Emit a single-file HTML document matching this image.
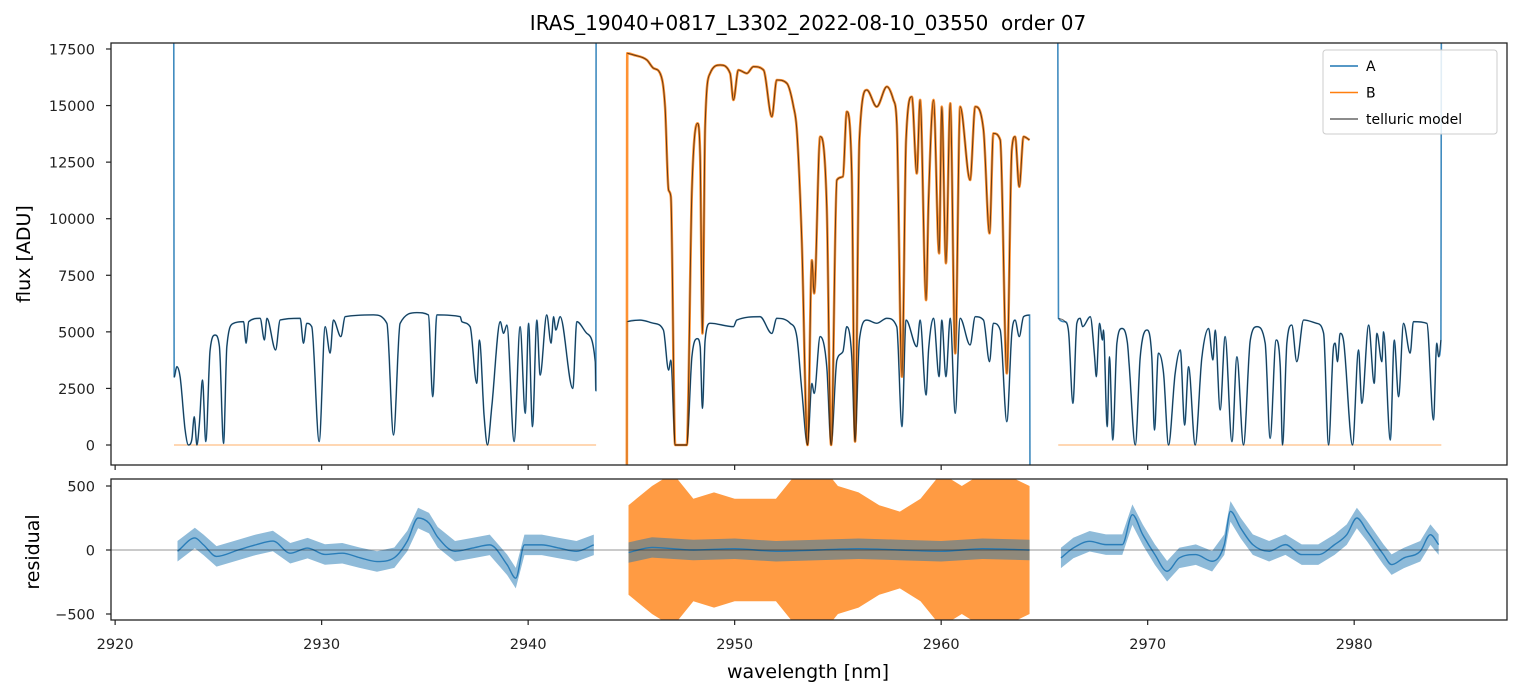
<!DOCTYPE html>
<html><head><meta charset="utf-8">
<style>
html,body{margin:0;padding:0;background:#fff;}
svg{display:block;font-family:"DejaVu Sans","Liberation Sans",sans-serif;}
</style></head>
<body>
<svg id="chart" width="1520" height="696" viewBox="0 0 1520 696" xmlns="http://www.w3.org/2000/svg">
<defs>
<clipPath id="clipTop"><rect x="111" y="43" width="1396" height="422"/></clipPath>
<clipPath id="clipBot"><rect x="111" y="479" width="1396" height="141"/></clipPath>
</defs>
<text x="808" y="30" font-size="20" text-anchor="middle" fill="#000" style="white-space:pre">IRAS_19040+0817_L3302_2022-08-10_03550  order 07</text>
<text transform="translate(30,254) rotate(-90)" font-size="19" text-anchor="middle">flux [ADU]</text>
<text transform="translate(39,552) rotate(-90)" font-size="19" text-anchor="middle">residual</text>
<text x="808" y="678" font-size="19" text-anchor="middle">wavelength [nm]</text>
<g id="topMarks" clip-path="url(#clipTop)"></g>
<g id="botMarks" clip-path="url(#clipBot)"></g>
<g id="axes"></g>
</svg>
<script>
const xTicks = [2920, 2930, 2940, 2950, 2960, 2970, 2980];
const yTicksTop = [0, 2500, 5000, 7500, 10000, 12500, 15000, 17500];
const yTicksBot = [-500, 0, 500];

const specA1 = [[2922.84,17800],[2922.86,3000],[2922.99,3460],[2923.15,2990],[2923.39,660],[2923.55,0],[2923.71,220],[2923.83,1250],[2923.96,0],[2924.08,950],[2924.23,2870],[2924.39,150],[2924.6,4200],[2924.84,4860],[2925.05,4350],[2925.25,70],[2925.41,4350],[2925.73,5376],[2926.22,5450],[2926.34,4500],[2926.47,5450],[2927.02,5600],[2927.23,4640],[2927.35,5600],[2927.77,4200],[2927.99,5524],[2928.96,5600],[2929.12,4500],[2929.28,5376],[2929.52,5229],[2929.88,150],[2930.17,5229],[2930.41,4060],[2930.57,5524],[2930.93,4790],[2931.14,5670],[2932.51,5750],[2933.16,5376],[2933.48,440],[2933.8,5376],[2934.61,5850],[2935.17,5750],[2935.38,2135],[2935.58,5750],[2936.71,5670],[2936.79,5450],[2937.19,5229],[2937.51,2725],[2937.64,4640],[2937.87,1250],[2938.03,0],[2938.24,1700],[2938.65,5450],[2938.81,4935],[2938.97,5300],[2939.32,150],[2939.61,5229],[2939.86,1400],[2940.02,5376],[2940.21,810],[2940.42,5524],[2940.58,3090],[2940.9,5750],[2941.11,4500],[2941.23,5670],[2941.34,5080],[2941.55,5670],[2942.16,2500],[2942.36,5450],[2942.84,4935],[2943.25,3680],[2943.28,2400],[2943.29,17800]];

const specA2 = [[2944.78,-900],[2944.8,5450],[2945.42,5520],[2946.07,5380],[2946.55,5080],[2946.8,3310],[2946.91,3750],[2947.12,0],[2947.68,0],[2947.93,3900],[2948.2,4700],[2948.33,4345],[2948.44,1620],[2948.57,4640],[2948.81,5380],[2949.94,5229],[2950.1,5520],[2951.23,5670],[2951.8,4930],[2952.04,5600],[2952.69,5380],[2953.01,4790],[2953.25,2430],[2953.53,0],[2953.74,2720],[2953.85,2280],[2954.14,4790],[2954.46,3460],[2954.67,0],[2954.95,3750],[2955.24,4120],[2955.43,5229],[2955.67,3900],[2955.83,150],[2956.04,4640],[2956.4,5520],[2956.88,5380],[2957.37,5600],[2957.85,5229],[2958.1,810],[2958.3,5520],[2958.82,4345],[2958.98,5520],[2959.27,2210],[2959.39,4200],[2959.63,5600],[2959.9,3020],[2960.03,5520],[2960.23,3020],[2960.44,5600],[2960.68,1400],[2960.92,5600],[2961.4,4420],[2961.65,5670],[2962.05,5520],[2962.34,3680],[2962.53,5380],[2962.86,5080],[2963.18,1030],[2963.42,4930],[2963.58,5520],[2963.78,4790],[2963.99,5670],[2964.28,5740],[2964.3,-900]];

const specA3 = [[2965.65,17800],[2965.68,5600],[2966.0,5450],[2966.17,5000],[2966.38,1840],[2966.57,5376],[2966.73,5600],[2966.85,5229],[2967.22,5670],[2967.43,3900],[2967.51,3020],[2967.67,5376],[2967.81,4640],[2967.86,5082],[2968.04,810],[2968.15,3900],[2968.31,220],[2968.51,4500],[2968.75,5150],[2969.02,4500],[2969.11,3460],[2969.4,0],[2969.64,3900],[2969.96,5082],[2970.2,3900],[2970.33,660],[2970.52,4060],[2970.77,3160],[2971.01,0],[2971.33,3160],[2971.58,4200],[2971.79,880],[2971.98,3460],[2972.3,0],[2972.62,3830],[2972.95,5150],[2973.16,3756],[2973.27,5082],[2973.51,1547],[2973.75,4790],[2974.08,147],[2974.32,3900],[2974.64,0],[2974.97,4640],[2975.29,5229],[2975.69,4500],[2975.93,295],[2976.22,4640],[2976.42,3460],[2976.53,0],[2976.74,4500],[2976.98,5300],[2977.22,3680],[2977.55,5524],[2978.19,5376],[2978.52,4935],[2978.76,0],[2979.0,4350],[2979.08,4500],[2979.19,3680],[2979.32,4935],[2979.48,4640],[2979.92,0],[2980.21,4200],[2980.37,1840],[2980.7,5300],[2980.97,2725],[2981.1,4935],[2981.34,3680],[2981.42,5000],[2981.75,220],[2981.94,4640],[2982.15,2135],[2982.39,5376],[2982.71,4060],[2982.87,5450],[2983.52,5376],[2983.84,1105],[2984.0,4500],[2984.09,3900],[2984.2,4640],[2984.22,17800]];

const specB = [[2944.78,-900],[2944.8,17310],[2945.1,17240],[2945.75,17015],[2946.07,16650],[2946.39,16425],[2946.63,14950],[2946.8,11270],[2946.91,10973],[2947.12,0],[2947.68,0],[2947.93,11270],[2948.2,14215],[2948.33,12742],[2948.44,4930],[2948.57,14070],[2948.81,16425],[2949.3,16790],[2949.78,16425],[2949.94,15247],[2950.18,16570],[2950.59,16425],[2950.91,16720],[2951.4,16570],[2951.8,14510],[2952.04,16130],[2952.53,15980],[2952.85,14950],[2953.01,13920],[2953.25,9060],[2953.53,0],[2953.74,8170],[2953.85,6700],[2954.14,13626],[2954.46,10530],[2954.67,0],[2954.95,11710],[2955.24,11860],[2955.43,14730],[2955.67,12000],[2955.83,150],[2956.04,13480],[2956.4,15690],[2956.88,14950],[2957.37,15835],[2957.69,15247],[2957.85,14215],[2958.1,3020],[2958.3,13480],[2958.58,15390],[2958.82,12000],[2958.98,15247],[2959.27,6400],[2959.39,10820],[2959.63,15247],[2959.9,8468],[2960.03,14950],[2960.23,8030],[2960.44,15100],[2960.68,4050],[2960.92,14950],[2961.4,11710],[2961.65,14950],[2962.05,13920],[2962.34,9352],[2962.53,13770],[2962.86,13480],[2963.18,3167],[2963.42,13030],[2963.58,13626],[2963.78,11410],[2963.99,13626],[2964.28,13480]];

const zeroB = [[[2922.85,0],[2943.29,0]],[[2965.67,0],[2984.22,0]]];

const residA1 = [[2923.02,-10],[2923.86,94],[2924.28,40],[2924.91,-50],[2925.96,0],[2926.8,40],[2927.64,70],[2928.48,-25],[2929.32,15],[2930.16,-35],[2931.0,-25],[2931.84,-60],[2932.68,-90],[2933.52,-60],[2934.15,70],[2934.67,250],[2935.2,210],[2935.62,100],[2936.46,-10],[2937.3,15],[2938.14,40],[2938.98,-115],[2939.4,-220],[2939.82,40],[2940.66,40],[2941.5,15],[2942.34,-10],[2943.18,40]];
const residA2 = [[2944.86,-20],[2946,20],[2948,0],[2950,10],[2952,-10],[2954,0],[2956,10],[2958,0],[2960,-10],[2962,10],[2964.28,0]];
const residA3 = [[2965.8,-62],[2966.4,16],[2967.19,68],[2967.98,42],[2968.77,42],[2969.26,276],[2969.76,120],[2970.35,-36],[2970.94,-166],[2971.53,-62],[2972.33,-36],[2973.12,-88],[2973.71,42],[2974.01,302],[2974.5,172],[2975.09,42],[2975.88,-10],[2976.67,42],[2977.46,-36],[2978.26,-36],[2979.05,42],[2979.64,120],[2980.13,250],[2980.63,146],[2981.42,-36],[2981.81,-114],[2982.41,-62],[2983.2,-10],[2983.69,120],[2984.09,42]];
const residBAmp = [[2944.86,350],[2946,500],[2947,600],[2948,400],[2949,450],[2950,400],[2952,400],[2953,600],[2954,700],[2955,500],[2956,450],[2957,350],[2958,300],[2959,400],[2960,600],[2961,500],[2962,600],[2963,600],[2964.28,500]];
const noiseA = 80;

const X0 = 111, X1 = 1507, xMin = 2919.8, xMax = 2987.4;
const sx = v => X0 + (v - xMin) / (xMax - xMin) * (X1 - X0);
const yTop = v => 445 - v * 0.022629;
const yBot = v => 550 - v * 0.128;
const NS = "http://www.w3.org/2000/svg";

function mk(tag, attrs, parent) {
  const e = document.createElementNS(NS, tag);
  for (const k in attrs) e.setAttribute(k, attrs[k]);
  parent.appendChild(e);
  return e;
}
function pts(arr, fy) { return arr.map(p => sx(p[0]).toFixed(2) + "," + fy(p[1]).toFixed(2)).join(" "); }
function smoothPath(arr, fy) {
  const P = arr.map(p => [sx(p[0]), fy(p[1])]);
  const n = P.length;
  if (n < 3) return "M" + P.map(p => p.join(",")).join("L");
  const d = [], m = [];
  for (let i = 0; i < n - 1; i++) {
    const dx = P[i+1][0] - P[i][0];
    d.push(dx === 0 ? 0 : (P[i+1][1] - P[i][1]) / dx);
  }
  m[0] = d[0]; m[n-1] = d[n-2];
  for (let i = 1; i < n - 1; i++) m[i] = (d[i-1] * d[i] <= 0) ? 0 : (d[i-1] + d[i]) / 2;
  for (let i = 0; i < n - 1; i++) {
    if (d[i] === 0) { m[i] = 0; m[i+1] = 0; continue; }
    const a = m[i] / d[i], b = m[i+1] / d[i], s = a*a + b*b;
    if (s > 9) { const t = 3 / Math.sqrt(s); m[i] = t*a*d[i]; m[i+1] = t*b*d[i]; }
  }
  let s = "M" + P[0][0].toFixed(2) + "," + P[0][1].toFixed(2);
  for (let i = 0; i < n - 1; i++) {
    const h = (P[i+1][0] - P[i][0]) / 3;
    s += "C" + (P[i][0]+h).toFixed(2) + "," + (P[i][1]+m[i]*h).toFixed(2) + " " +
         (P[i+1][0]-h).toFixed(2) + "," + (P[i+1][1]-m[i+1]*h).toFixed(2) + " " +
         P[i+1][0].toFixed(2) + "," + P[i+1][1].toFixed(2);
  }
  return s;
}

const topG = document.getElementById("topMarks");
const botG = document.getElementById("botMarks");
const axesG = document.getElementById("axes");

zeroB.forEach(seg => {
  const l = mk("polyline", {points: pts(seg, yTop), fill: "none", stroke: "#ff7f0e", "stroke-opacity": "0.5", "stroke-width": "1.2"}, topG);
  
  
});
[specA1, specA2, specA3].forEach(s => {
  const l = mk("path", {d: smoothPath(s, yTop), fill: "none", stroke: "#1f77b4", "stroke-opacity": "0.85", "stroke-width": "1.6"}, topG);
  
  
});
{
  const l = mk("path", {d: smoothPath(specB, yTop), fill: "none", stroke: "#ff7f0e", "stroke-opacity": "0.85", "stroke-width": "2.6"}, topG);
  
  
}
[specA1.slice(1, -1), specA2.slice(1, -1), specA3.slice(1, -1), specB.slice(1)].forEach(s => {
  const l = mk("path", {d: smoothPath(s, yTop), fill: "none", stroke: "#000", "stroke-opacity": "0.6", "stroke-width": "1"}, topG);
  
  
});

{
  const up = residBAmp.map(p => [p[0], p[1]]);
  const dn = residBAmp.slice().reverse().map(p => [p[0], -p[1]]);
  const b = mk("polygon", {points: pts(up.concat(dn), yBot), fill: "#ff7f0e", "fill-opacity": "0.78"}, botG);
  
  
}
[residA1, residA2, residA3].forEach(s => {
  const up = s.map(p => [p[0], p[1] + noiseA]);
  const dn = s.slice().reverse().map(p => [p[0], p[1] - noiseA]);
  const b = mk("polygon", {points: pts(up.concat(dn), yBot), fill: "#1f77b4", "fill-opacity": "0.5"}, botG);
  
  
  const l = mk("path", {d: smoothPath(s, yBot), fill: "none", stroke: "#1f77b4", "stroke-opacity": "0.9", "stroke-width": "1.4"}, botG);
  
  
});
{
  const z = mk("line", {x1: X0, x2: X1, y1: yBot(0), y2: yBot(0), stroke: "#000", "stroke-opacity": "0.55", "stroke-width": "0.8"}, botG);
  
  
}

[[43, 465, 'top-panel-frame'], [479, 620, 'residual-panel-frame']].forEach(f => {
  const r = mk("rect", {x: X0, y: f[0], width: X1 - X0, height: f[1] - f[0], fill: "none", stroke: "#222", "stroke-width": "1.3"}, axesG);
  
  
});
xTicks.forEach(t => {
  [465, 620].forEach(yb => {
    const tk = mk("line", {x1: sx(t), x2: sx(t), y1: yb, y2: yb + 5, stroke: "#222", "stroke-width": "1.2"}, axesG);
    
    
  });
  const lb = mk("text", {x: sx(t), y: 649, "font-size": "14.5", "text-anchor": "middle", fill: "#222"}, axesG);
  lb.textContent = t;
  
  
});
yTicksTop.forEach(t => {
  const tk = mk("line", {x1: X0 - 5, x2: X0, y1: yTop(t), y2: yTop(t), stroke: "#222", "stroke-width": "1.2"}, axesG);
  
  
  const lb = mk("text", {x: X0 - 16, y: yTop(t) + 5.5, "font-size": "14.5", "text-anchor": "end", fill: "#222"}, axesG);
  lb.textContent = t;
  
  
});
yTicksBot.forEach(t => {
  const tk = mk("line", {x1: X0 - 5, x2: X0, y1: yBot(t), y2: yBot(t), stroke: "#222", "stroke-width": "1.2"}, axesG);
  
  
  const lb = mk("text", {x: X0 - 16, y: yBot(t) + 5.5, "font-size": "14.5", "text-anchor": "end", fill: "#222"}, axesG);
  lb.textContent = t === -500 ? "\u2212500" : t;
  
  
});

{
  const g = mk("g", {}, axesG);
  
  
  mk("rect", {x: 1323, y: 50, width: 174, height: 84, rx: 3, fill: "#fff", "fill-opacity": "0.85", stroke: "#ccc", "stroke-width": "1"}, g);
  const items = [["A", "#1f77b4", 1], ["B", "#ff7f0e", 1], ["telluric model", "#000", 0.6]];
  items.forEach((it, i) => {
    const yy = 66 + i * 26.5;
    const e = mk("g", {}, g);
    
    
    mk("line", {x1: 1330, x2: 1358, y1: yy, y2: yy, stroke: it[1], "stroke-opacity": it[2], "stroke-width": "1.5"}, e);
    const t = mk("text", {x: 1366, y: yy + 5, "font-size": "14", fill: "#000"}, e);
    t.textContent = it[0];
  });
}
</script>
</body></html>
